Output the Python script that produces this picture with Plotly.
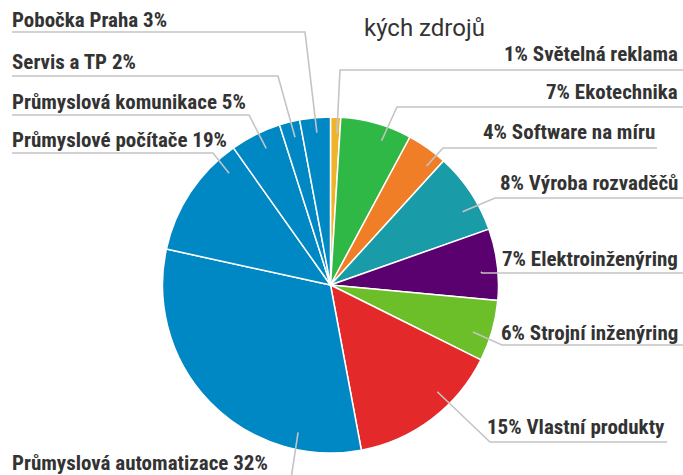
import math
import plotly.graph_objects as go

W, H = 683, 475

categories = ["Světelná reklama", "Ekotechnika", "Software na míru", "Výroba rozvaděčů",
              "Elektroinženýring", "Strojní inženýring", "Vlastní produkty",
              "Průmyslová automatizace", "Průmyslové počítače", "Průmyslová komunikace",
              "Servis a TP", "Pobočka Praha"]
values = [1, 7, 4, 8, 7, 6, 15, 32, 12, 5, 2, 3]
label_texts = ["1% Světelná reklama", "7% Ekotechnika", "4% Software na míru",
               "8% Výroba rozvaděčů", "7% Elektroinženýring", "6% Strojní inženýring",
               "15% Vlastní produkty", "Průmyslová automatizace 32%",
               "Průmyslové počítače 19%", "Průmyslová komunikace 5%",
               "Servis a TP 2%", "Pobočka Praha 3%"]
colors = ["#F0B429", "#2FB846", "#F07E26", "#1A9BA8", "#5B016F", "#6DBF2A",
          "#E3292A", "#0088C4", "#0088C4", "#0088C4", "#0088C4", "#0088C4"]
title_lines = ["Procentuální rozložení lids", "kých zdrojů"]

# pie geometry (pixels)
cx, cy, r = 330.5, 285.0, 168.0

# label layout: side, text centre y, leader line y, elbow x, line end x, anchor angle, anchor radius
label_layout = [
    ("r", 54, 70, 340, 683, 2.4, 152),
    ("r", 92, 107, 397, 683, 19.5, 153),
    ("r", 132, 148, 443, 657, 38.9, 153),
    ("r", 183, 198, 495, 683, 61.0, 151),
    ("r", 259, 273, 482, 683, 85.0, 151),
    ("r", 333, 345, 502, 683, 108.3, 150),
    ("r", 427, 442, 490, 667, 135.0, 151),
    ("l", 463, 492, 289, 10, 192.4, 151),
    ("l", 140, 153, 213, 12, 317.8, 151),
    ("l", 102, 115, 249, 12, 334.8, 151),
    ("l", 62, 76, 278, 12, 346.5, 152),
    ("l", 20, 32, 305, 12, 354.9, 153),
]

def px(x):
    return x / W

def py(y):
    return 1 - y / H

fig = go.Figure()
fig.add_trace(go.Pie(
    labels=categories, values=values, sort=False, direction="clockwise", rotation=0,
    marker=dict(colors=colors, line=dict(color="white", width=1.5)),
    textinfo="none", hoverinfo="label+percent", showlegend=False,
    domain=dict(x=[px(cx - r), px(cx + r)], y=[py(cy + r), py(cy - r)]),
))

LABEL_FONT = dict(family="Roboto Condensed, Liberation Sans Narrow, Roboto", size=21,
                  color="#333333", weight=700)

shapes = []
annotations = []
for txt, (side, ty, ly, ex, endx, ang, ar) in zip(label_texts, label_layout):
    a = math.radians(ang)
    ax_ = cx + ar * math.sin(a)
    ay_ = cy - ar * math.cos(a)
    path = f"M {px(ax_)},{py(ay_)} L {px(ex)},{py(ly)} L {px(endx)},{py(ly)}"
    shapes.append(dict(type="path", path=path, xref="paper", yref="paper",
                       line=dict(color="#C4C4C4", width=1.6)))
    if side == "r":
        annotations.append(dict(text=txt, x=px(endx if endx < 680 else 680), y=py(ty),
                                xref="paper", yref="paper", xanchor="right", yanchor="middle",
                                showarrow=False, font=LABEL_FONT))
    else:
        annotations.append(dict(text=txt, x=px(10), y=py(ty), xref="paper", yref="paper",
                                xanchor="left", yanchor="middle", showarrow=False,
                                font=LABEL_FONT))

TITLE_FONT = dict(family="Roboto", size=24, color="#333333")
annotations.append(dict(text=title_lines[0], x=px(362), y=py(-10), xref="paper", yref="paper",
                        xanchor="left", yanchor="middle", showarrow=False, font=TITLE_FONT))
annotations.append(dict(text=title_lines[1], x=px(362), y=py(28), xref="paper", yref="paper",
                        xanchor="left", yanchor="middle", showarrow=False, font=TITLE_FONT))

fig.update_layout(
    width=W, height=H, margin=dict(l=0, r=0, t=0, b=0),
    paper_bgcolor="white", plot_bgcolor="white",
    shapes=shapes, annotations=annotations,
)

fig.write_html("out.html", config={"displayModeBar": False},
               post_script="document.body.style.margin='0';")
